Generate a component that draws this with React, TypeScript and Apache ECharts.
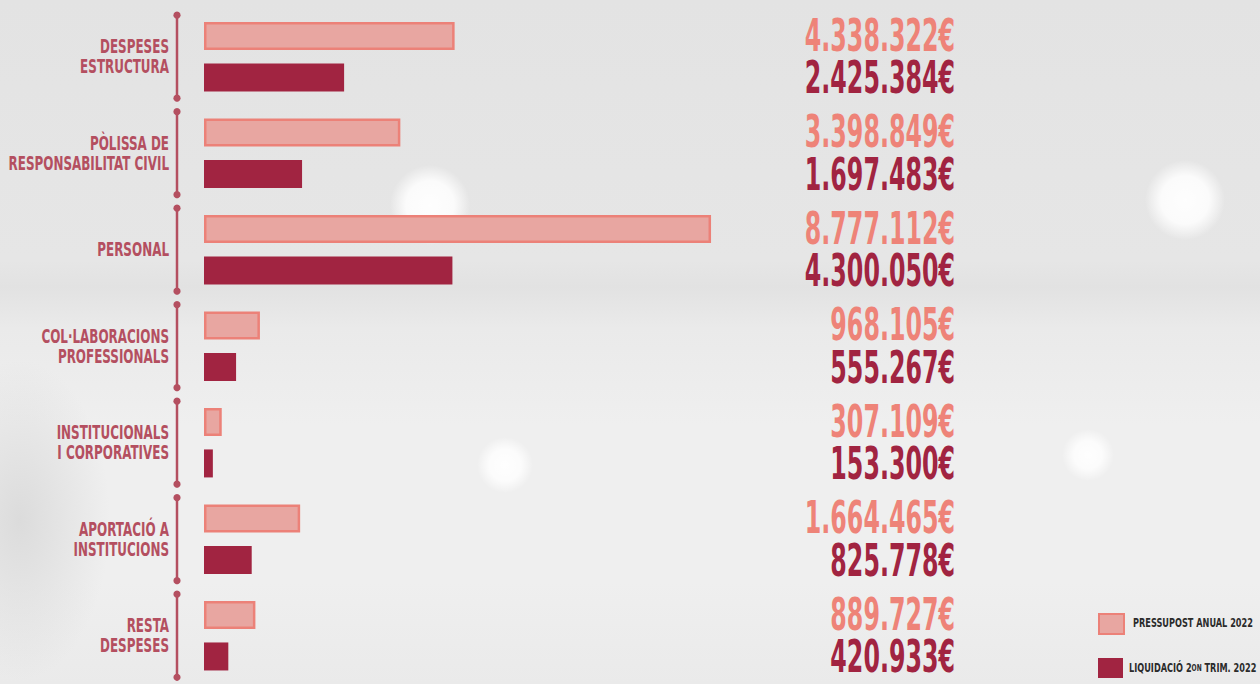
import React, { useEffect, useRef } from "react";
import * as echarts from "echarts";

const categories = [
  "DESPESES\nESTRUCTURA",
  "PÒLISSA DE\nRESPONSABILITAT CIVIL",
  "PERSONAL",
  "COL·LABORACIONS\nPROFESSIONALS",
  "INSTITUCIONALS\nI CORPORATIVES",
  "APORTACIÓ A\nINSTITUCIONS",
  "RESTA\nDESPESES",
];
const budget2022 = [4338322, 3398849, 8777112, 968105, 307109, 1664465, 889727];
const liquidation2022 = [2425384, 1697483, 4300050, 555267, 153300, 825778, 420933];
const seriesNames = ["PRESSUPOST ANUAL 2022", "LIQUIDACIÓ 2ON TRIM. 2022"];

const PINK_FILL = "#E8A6A1";
const PINK_BORDER = "#EC8178";
const PINK_TEXT = "#EE8378";
const DARK = "#A12441";
const LABEL = "#B44F60";
const NARROW = '"Liberation Sans Narrow", "DejaVu Sans Condensed", sans-serif';

function fmt(v: number): string {
  const s = String(Math.round(v));
  let out = "";
  for (let i = 0; i < s.length; i++) {
    const fromEnd = s.length - i;
    out += s[i];
    if (fromEnd > 1 && (fromEnd - 1) % 3 === 0) out += ".";
  }
  return out + "€";
}

export default function App() {
  const ref = useRef<HTMLDivElement>(null);
  useEffect(() => {
    if (!ref.current) return;
    const chart = echarts.init(ref.current, undefined, { renderer: "svg" });
    const legendBase = {
      orient: "vertical",
      left: 1098,
      padding: 0,
      itemWidth: 25,
      itemHeight: 20,
      icon: "rect",
      selectedMode: false,
      formatter: () => "",
      textStyle: { fontSize: 1 },
    };
    chart.setOption({
      animation: false,
      backgroundColor: "transparent",
      grid: { left: 204, width: 751, top: 8.4, height: 684 },
      xAxis: { type: "value", min: 0, max: 13000000, show: false },
      yAxis: {
        type: "category",
        data: categories,
        inverse: true,
        axisLine: { show: false },
        axisTick: { show: false },
        axisLabel: { show: false },
        splitLine: { show: false },
      },
      legend: [
        { ...legendBase, data: [seriesNames[0]], top: 613 },
        { ...legendBase, data: [seriesNames[1]], top: 658 },
      ],
      graphic: [
        {
          type: "text",
          x: 1133,
          y: 623,
          scaleX: 0.7,
          style: {
            text: seriesNames[0],
            align: "left",
            verticalAlign: "middle",
            fontFamily: NARROW,
            fontWeight: "bold",
            fontSize: 13,
            fill: "#2b2b2b",
          },
        },
        {
          type: "text",
          x: 1129,
          y: 668,
          scaleX: 0.7,
          style: {
            text: "{a|LIQUIDACIÓ 2}{b|ON}{a| TRIM. 2022}",
            align: "left",
            verticalAlign: "middle",
            rich: {
              a: { fontFamily: NARROW, fontWeight: "bold", fontSize: 13, fill: "#2b2b2b" },
              b: { fontFamily: NARROW, fontWeight: "bold", fontSize: 9.5, fill: "#2b2b2b" },
            },
          },
        },
      ],
      series: [
        {
          name: seriesNames[0],
          type: "bar",
          data: budget2022,
          barWidth: 28,
          barGap: "48%",
          itemStyle: { color: PINK_FILL, borderColor: PINK_BORDER, borderWidth: 2.5 },
        },
        {
          name: seriesNames[1],
          type: "bar",
          data: liquidation2022,
          barWidth: 28,
          itemStyle: { color: DARK },
        },
        {
          name: "labels",
          type: "custom",
          silent: true,
          data: categories.map((_, i) => [0, i]),
          encode: { x: 0, y: 1 },
          renderItem: (params: any, api: any) => {
            const idx = api.value(1);
            const p = api.coord([0, idx]);
            const x0 = p[0];
            const cy = p[1];
            const band = api.size([0, 1])[1];
            const half = band * 0.43;
            const off = band * 0.22;
            const right = params.coordSys.x + params.coordSys.width;
            const bx = x0 - 27;
            return {
              type: "group",
              children: [
                {
                  type: "line",
                  shape: { x1: bx, y1: cy - half, x2: bx, y2: cy + half },
                  style: { stroke: LABEL, lineWidth: 2.5 },
                },
                { type: "circle", shape: { cx: bx, cy: cy - half, r: 3.6 }, style: { fill: LABEL } },
                { type: "circle", shape: { cx: bx, cy: cy + half, r: 3.6 }, style: { fill: LABEL } },
                {
                  type: "text",
                  x: x0 - 35,
                  y: cy,
                  scaleX: 0.7,
                  style: {
                    text: categories[idx],
                    align: "right",
                    verticalAlign: "middle",
                    fontFamily: NARROW,
                    fontWeight: "bold",
                    fontSize: 19,
                    lineHeight: 20,
                    fill: LABEL,
                  },
                },
                {
                  type: "text",
                  x: right,
                  y: cy - off,
                  scaleX: 0.6,
                  style: {
                    text: fmt(budget2022[idx]),
                    align: "right",
                    verticalAlign: "middle",
                    fontFamily: NARROW,
                    fontWeight: "bold",
                    fontSize: 44,
                    fill: PINK_TEXT,
                  },
                },
                {
                  type: "text",
                  x: right,
                  y: cy + off,
                  scaleX: 0.6,
                  style: {
                    text: fmt(liquidation2022[idx]),
                    align: "right",
                    verticalAlign: "middle",
                    fontFamily: NARROW,
                    fontWeight: "bold",
                    fontSize: 44,
                    fill: DARK,
                  },
                },
              ],
            };
          },
        },
      ],
    });
    return () => chart.dispose();
  }, []);

  const bg = [
    "radial-gradient(circle at 430px 205px, rgba(255,255,255,0.95) 0px, rgba(255,255,255,0.85) 24px, rgba(255,255,255,0) 40px)",
    "radial-gradient(circle at 1185px 200px, rgba(255,255,255,0.95) 0px, rgba(255,255,255,0.85) 24px, rgba(255,255,255,0) 40px)",
    "radial-gradient(circle at 505px 465px, rgba(255,255,255,0.95) 0px, rgba(255,255,255,0.8) 16px, rgba(255,255,255,0) 28px)",
    "radial-gradient(circle at 1088px 455px, rgba(255,255,255,0.95) 0px, rgba(255,255,255,0.8) 14px, rgba(255,255,255,0) 26px)",
    "radial-gradient(ellipse 90px 160px at 20px 520px, rgba(200,200,200,0.5) 0px, rgba(200,200,200,0) 100%)",
    "linear-gradient(to bottom, #e3e3e3 0%, #e6e6e6 38%, #e2e2e2 42%, #eaeaea 48%, #efefef 62%, #efefef 85%, #eaeaea 100%)",
  ].join(", ");

  return (
    <div
      style={{ position: "fixed", left: 0, top: 0, width: 1260, height: 684, background: bg }}
    >
      <div ref={ref} style={{ width: 1260, height: 684 }} />
    </div>
  );
}
